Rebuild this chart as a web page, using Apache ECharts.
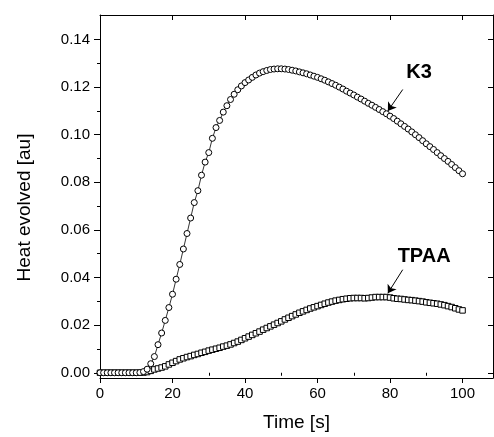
<!DOCTYPE html>
<html>
<head>
<meta charset="utf-8">
<script src="https://cdn.jsdelivr.net/npm/echarts@6/dist/echarts.min.js"></script>
<style>
html,body{margin:0;padding:0;background:#fff;}
#chart{width:494px;height:437px;}
</style>
</head>
<body>
<div id="chart"></div>
<script>
var times = [0,1,2,3,4,5,6,7,8,9,10,11,12,13,14,15,16,17,18,19,20,21,22,23,24,25,26,27,28,29,30,31,32,33,34,35,36,37,38,39,40,41,42,43,44,45,46,47,48,49,50,51,52,53,54,55,56,57,58,59,60,61,62,63,64,65,66,67,68,69,70,71,72,73,74,75,76,77,78,79,80,81,82,83,84,85,86,87,88,89,90,91,92,93,94,95,96,97,98,99,100];

var k3 = [0.0000,0.0000,0.0000,0.0000,0.0000,0.0000,0.0000,0.0000,0.0000,0.0000,0.0000,0.0001,0.0005,0.0015,0.0038,0.0068,0.0118,0.0167,0.0220,0.0274,
0.0330,0.0393,0.0455,0.0520,0.0585,0.0650,0.0715,0.0765,0.0830,0.0885,
0.0925,0.0985,0.1030,0.1060,0.1095,0.1122,0.1148,0.1170,0.1189,0.1205,
0.1219,0.1230,0.1241,0.1251,0.1259,0.1265,0.1270,0.1274,0.1276,0.1277,
0.1277,0.1276,0.1274,0.1271,0.1268,0.1264,0.1260,0.1256,0.1251,0.1246,
0.1241,0.1235,0.1229,0.1222,0.1215,0.1208,0.1200,0.1192,0.1183,0.1175,
0.1167,0.1158,0.1150,0.1141,0.1132,0.1124,0.1115,0.1106,0.1097,0.1088,
0.1078,0.1068,0.1057,0.1046,0.1035,0.1024,0.1012,0.1000,0.0988,0.0975,
0.0962,0.0950,0.0938,0.0925,0.0912,0.0900,0.0888,0.0875,0.0862,0.0849,
0.0836];

var tpaa = [0.0000,0.0000,0.0000,0.0000,0.0000,0.0000,0.0000,0.0000,0.0000,0.0000,0.0000,0.0000,0.0001,0.0003,0.0008,0.0014,0.0018,0.0022,0.0027,0.0035,
0.0042,0.0049,0.0056,0.0061,0.0066,0.0070,0.0075,0.0079,0.0084,0.0088,
0.0093,0.0097,0.0101,0.0105,0.0110,0.0114,0.0119,0.0125,0.0131,0.0138,
0.0145,0.0152,0.0159,0.0166,0.0173,0.0181,0.0188,0.0195,0.0202,0.0209,
0.0216,0.0224,0.0231,0.0238,0.0245,0.0252,0.0258,0.0264,0.0270,0.0275,
0.0280,0.0285,0.0290,0.0295,0.0299,0.0303,0.0306,0.0309,0.0311,0.0313,
0.0314,0.0314,0.0314,0.0313,0.0314,0.0316,0.0318,0.0318,0.0318,0.0318,
0.0316,0.0313,0.0311,0.0310,0.0308,0.0306,0.0305,0.0303,0.0301,0.0299,
0.0296,0.0294,0.0292,0.0290,0.0287,0.0284,0.0280,0.0276,0.0271,0.0266,
0.0262];

var xMajorTicks = [0,20,40,60,80,100];
var xMinorTicks = [10,30,50,70,90];
var yMajorTicks = [0,0.02,0.04,0.06,0.08,0.10,0.12,0.14];
var yMinorTicks = [0.01,0.03,0.05,0.07,0.09,0.11,0.13];

var k3Label = {text:'K3', x:88.0, y:0.1262};
var k3Arrow = {from:[83.5,0.1190], to:[79.4,0.1100]};
var tpaaLabel = {text:'TPAA', x:89.4, y:0.0490};
var tpaaArrow = {from:[83.5,0.0433], to:[79.4,0.0334]};

var X_MIN = 0, X_MAX = 108.4, Y_MIN = -0.0022, Y_MAX = 0.1503;
var FONT = '"Liberation Sans", Arial, Helvetica, sans-serif';

function pairs(xs, ys){ var o=[]; for(var i=0;i<xs.length;i++) o.push([xs[i], ys[i]]); return o; }

var chart = echarts.init(document.getElementById('chart'), null, {renderer:'canvas'});

var axLine = {show:true, onZero:false, lineStyle:{color:'#000', width:1}};

function annot(label, arrow){
  return {
    markPoint: {
      silent:true, animation:false,
      symbol:'circle', symbolSize:1,
      itemStyle:{color:'rgba(0,0,0,0)', borderWidth:0},
      label:{show:true, position:'inside', formatter:label.text, color:'#000',
             fontFamily:FONT, fontWeight:'bold', fontSize:20},
      data:[{coord:[label.x, label.y]}]
    },
    markLine: {
      silent:true, animation:false, z:10,
      symbol:['none','arrow'], symbolSize:8,
      itemStyle:{color:'#000'},
      lineStyle:{color:'#000', width:1, type:'solid'},
      label:{show:false},
      data:[[{coord:arrow.from},{coord:arrow.to}]]
    }
  };
}

var tpaaSeries = Object.assign({
  name:'TPAA', type:'line', data:pairs(times, tpaa),
  symbol:'rect', symbolSize:5.5, showAllSymbol:true,
  lineStyle:{color:'#000', width:0.8},
  itemStyle:{color:'#fff', borderColor:'#000', borderWidth:1},
  animation:false, z:2
}, annot(tpaaLabel, tpaaArrow));

var k3Series = Object.assign({
  name:'K3', type:'line', data:pairs(times, k3),
  symbol:'circle', symbolSize:6, showAllSymbol:true,
  lineStyle:{color:'#000', width:0.8},
  itemStyle:{color:'#fff', borderColor:'#000', borderWidth:1},
  animation:false, z:3
}, annot(k3Label, k3Arrow));

chart.setOption({
  backgroundColor:'#fff',
  animation:false,
  grid:{left:100, right:1, top:15, bottom:56, containLabel:false},
  xAxis:[
    {type:'value', position:'bottom', min:X_MIN, max:X_MAX,
     axisLine:axLine,
     axisTick:{show:true, inside:false, length:5, customValues:xMajorTicks, lineStyle:{color:'#000'}},
     axisLabel:{show:true, customValues:xMajorTicks, margin:8, color:'#000', fontSize:15, fontFamily:FONT},
     splitLine:{show:false},
     name:'Time [s]', nameLocation:'middle', nameGap:35,
     nameTextStyle:{color:'#000', fontSize:19, fontFamily:FONT}},
    {type:'value', position:'bottom', min:X_MIN, max:X_MAX,
     axisLine:{show:false},
     axisTick:{show:true, inside:false, length:3, customValues:xMinorTicks, lineStyle:{color:'#000'}},
     axisLabel:{show:false}, splitLine:{show:false}},
    {type:'value', position:'top', min:X_MIN, max:X_MAX,
     axisLine:axLine,
     axisTick:{show:true, inside:true, length:5, customValues:xMajorTicks, lineStyle:{color:'#000'}},
     axisLabel:{show:false}, splitLine:{show:false}}
  ],
  yAxis:[
    {type:'value', position:'left', min:Y_MIN, max:Y_MAX,
     axisLine:axLine,
     axisTick:{show:true, inside:false, length:6, customValues:yMajorTicks, lineStyle:{color:'#000'}},
     axisLabel:{show:true, customValues:yMajorTicks, margin:10, color:'#000', fontSize:15, fontFamily:FONT,
                formatter:function(v){return v.toFixed(2);}},
     splitLine:{show:false},
     name:'Heat evolved [au]', nameLocation:'middle', nameGap:66, nameRotate:90,
     nameTextStyle:{color:'#000', fontSize:19, fontFamily:FONT, padding:[0,22,0,0]}},
    {type:'value', position:'left', min:Y_MIN, max:Y_MAX,
     axisLine:{show:false},
     axisTick:{show:true, inside:false, length:3, customValues:yMinorTicks, lineStyle:{color:'#000'}},
     axisLabel:{show:false}, splitLine:{show:false}},
    {type:'value', position:'right', min:Y_MIN, max:Y_MAX,
     axisLine:axLine,
     axisTick:{show:true, inside:true, length:5, customValues:yMajorTicks, lineStyle:{color:'#000'}},
     axisLabel:{show:false}, splitLine:{show:false}}
  ],
  series:[tpaaSeries, k3Series]
});
</script>
</body>
</html>
